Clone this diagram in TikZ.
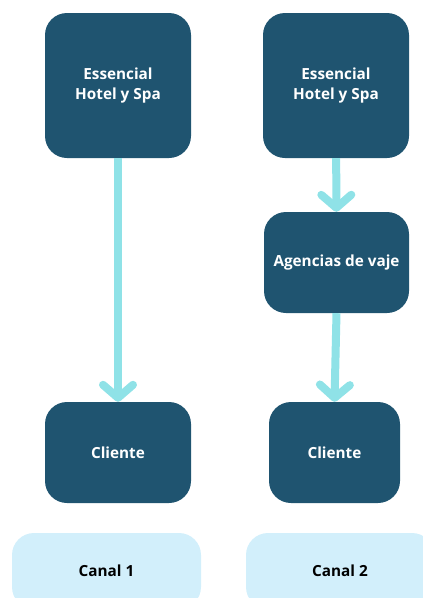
\documentclass[tikz,border=0pt]{standalone}
\usepackage{fontspec}
\setmainfont{Open Sans}
\usetikzlibrary{arrows.meta}
\definecolor{boxblue}{RGB}{31,84,112}
\definecolor{arrowcyan}{RGB}{143,226,231}
\definecolor{canalblue}{RGB}{210,239,251}
\begin{document}
\begin{tikzpicture}[x=1pt, y=-1pt,
	darkbox/.style={fill=boxblue, rounded corners=22pt, text=white, align=center,
		font=\fontsize{15.3}{20}\selectfont\bfseries, inner sep=0pt},
	canalbox/.style={fill=canalblue, rounded corners=22pt, text=black,
		font=\fontsize{15.3}{20}\selectfont\bfseries, inner sep=0pt},
	flow/.style={arrowcyan, line width=8pt, -{Straight Barb[length=13pt, width=30pt, round]}}]
					\useasboundingbox (0,0) rectangle (423,598);
					\node (H1) at (118,85.5)   [darkbox, minimum width=146pt, minimum height=145pt] {Essencial\\Hotel y Spa};
					\node (H2) at (336,85.5)   [darkbox, minimum width=146pt, minimum height=145pt] {Essencial\\Hotel y Spa};
					\node (AV) at (336.5,262.5) [darkbox, minimum width=145pt, minimum height=101pt] {Agencias de vaje};
					\node (C1) at (118,452.5)  [darkbox, minimum width=146pt, minimum height=101pt] {Cliente};
					\node (C2) at (334.5,452.5) [darkbox, minimum width=131pt, minimum height=101pt] {Cliente};
					\node (K1) at (106.5,571)  [canalbox, minimum width=189pt, minimum height=76pt] {Canal 1};
					\node (K2) at (340,571)    [canalbox, minimum width=188pt, minimum height=76pt] {Canal 2};

					% Draw an arrow between the nodes
					\draw[flow] (H1) -- (C1);
					\draw[flow] (H2) -- (AV);
					\draw[flow] (AV.south) -- (C2.north);
				\end{tikzpicture}
\end{document}
